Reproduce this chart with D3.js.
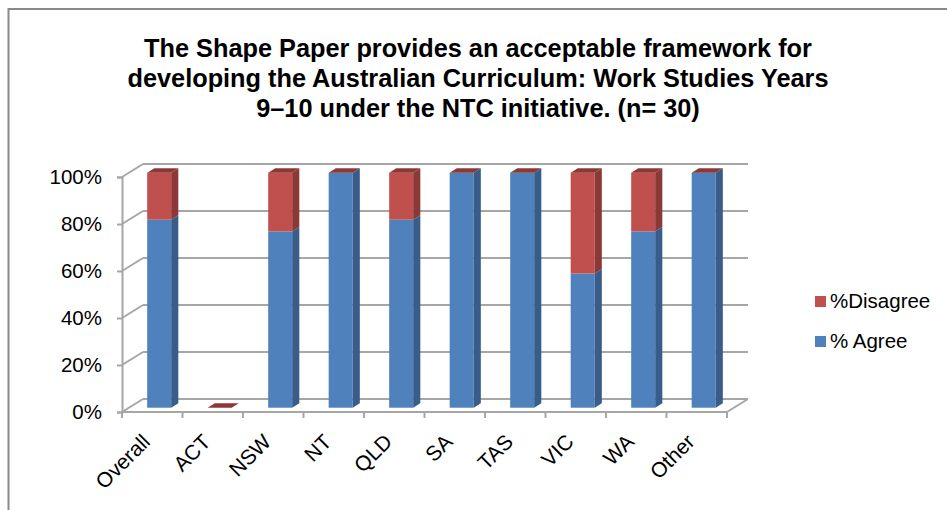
<!DOCTYPE html>
<html><head><meta charset="utf-8">
<script src="https://cdn.jsdelivr.net/npm/d3@7"></script>
<style>
html,body{margin:0;padding:0;background:#fff;}
svg{display:block;font-family:"Liberation Sans",Arial,sans-serif;}
</style></head>
<body>
<svg id="chart" width="947" height="510"></svg>
<script>
const titleLines = ["The Shape Paper provides an acceptable framework for",
  "developing the Australian Curriculum: Work Studies Years",
  "9\u201310 under the NTC initiative. (n= 30)"];
const categories = ["Overall","ACT","NSW","NT","QLD","SA","TAS","VIC","WA","Other"];
const agree    = [0.80, 0, 0.75, 1.00, 0.80, 1.00, 1.00, 0.571, 0.75, 1.00];
const disagree = [0.20, 0, 0.25, 0.00, 0.20, 0.00, 0.00, 0.429, 0.25, 0.00];
const seriesNames = ["%Disagree","% Agree"];
const yTicks = [0,0.2,0.4,0.6,0.8,1.0];

const svg = d3.select("#chart");
const W = 947, H = 510;

// chart border
svg.append("rect").attr("x",8.5).attr("y",9).attr("width",W+20).attr("height",H+20)
  .attr("fill","none").attr("stroke","#8a8a8a").attr("stroke-width",2);

// title
svg.append("g").selectAll("text").data(titleLines).join("text")
  .attr("x",478).attr("y",(d,i)=>57+i*30)
  .attr("text-anchor","middle").attr("font-weight","bold").attr("font-size",25.3)
  .attr("fill","#000").text(d=>d);

const DX = 21, DY = -13;
const x = d3.scaleBand().domain(categories).range([122,727]);
const y = d3.scaleLinear().domain([0,1]).range([412,177]);
const gridC = "#a6a6a6";

// back wall gridlines
const g = svg.append("g");
g.selectAll("line.back").data(yTicks).join("line")
  .attr("x1",122+DX).attr("x2",727+DX)
  .attr("y1",d=>y(d)+DY).attr("y2",d=>y(d)+DY)
  .attr("stroke",gridC).attr("stroke-width",2);
// left wall diagonals
g.selectAll("line.side").data(yTicks).join("line")
  .attr("x1",122).attr("x2",122+DX)
  .attr("y1",d=>y(d)).attr("y2",d=>y(d)+DY)
  .attr("stroke",gridC).attr("stroke-width",2);
// floor right edge
g.append("line").attr("x1",727).attr("y1",y(0)).attr("x2",727+DX).attr("y2",y(0)+DY)
  .attr("stroke",gridC).attr("stroke-width",2);

// bars
const f0 = 0.33, f1 = 0.67;
const bw = 24;
const colors = {
  agree:{front:"#4f81bd", side:"#385d8a", top:"#6f9ad0"},
  dis:{front:"#c0504d", side:"#8c3836", top:"#a8403d"}
};
const bars = svg.append("g");
categories.forEach((c,i)=>{
  const cx = x(c) + x.bandwidth()/2;
  const xl = cx - bw/2 + f0*DX, xr = xl + bw;
  const ox = (f1-f0)*DX, oy = (f1-f0)*DY;
  const segs = [
    {v0:0, v1:agree[i], col:colors.agree},
    {v0:agree[i], v1:agree[i]+disagree[i], col:colors.dis}
  ];
  segs.forEach(s=>{
    const yb = y(s.v0)+f0*DY, yt = y(s.v1)+f0*DY;
    if (yb-yt > 0.01) {
      bars.append("rect").attr("x",xl).attr("y",yt).attr("width",bw).attr("height",yb-yt)
        .attr("fill",s.col.front);
      bars.append("path").attr("d",`M${xr},${yb}L${xr+ox},${yb+oy}L${xr+ox},${yt+oy}L${xr},${yt}Z`)
        .attr("fill",s.col.side);
    }
  });
  // top face (red, top of stack)
  const ytop = y(agree[i]+disagree[i])+f0*DY;
  bars.append("path").attr("d",`M${xl},${ytop}L${xr},${ytop}L${xr+ox},${ytop+oy}L${xl+ox},${ytop+oy}Z`)
    .attr("fill",colors.dis.side);
});

// front axes
const ya = svg.append("g").attr("transform","translate(122,0)")
  .call(d3.axisLeft(y).tickValues(yTicks).tickFormat(d3.format(".0%")).tickSize(5).tickPadding(15));
ya.select(".domain").attr("stroke",gridC).attr("stroke-width",2);
ya.selectAll(".tick line").attr("stroke",gridC).attr("stroke-width",2);
ya.selectAll(".tick text").attr("font-size",20.5).attr("fill","#000")
  .attr("font-family","'Liberation Sans',Arial,sans-serif");

// floor front line
svg.append("line").attr("x1",122).attr("x2",727).attr("y1",y(0)).attr("y2",y(0))
  .attr("stroke",gridC).attr("stroke-width",2);
// category boundary ticks
svg.append("g").selectAll("line").data(d3.range(categories.length+1)).join("line")
  .attr("x1",d=>122+d*x.step()).attr("x2",d=>122+d*x.step())
  .attr("y1",y(0)).attr("y2",y(0)+6).attr("stroke",gridC).attr("stroke-width",2);

// category labels
const xa = svg.append("g").attr("transform",`translate(0,${y(0)})`)
  .call(d3.axisBottom(x).tickSize(0));
xa.select(".domain").remove();
xa.selectAll(".tick text")
  .attr("font-size",21).attr("fill","#000")
  .attr("font-family","'Liberation Sans',Arial,sans-serif")
  .attr("text-anchor","end").attr("dy",0)
  .attr("transform","translate(-3,29) rotate(-45)");

// legend
const leg = svg.append("g");
const legCols = [colors.dis.front, colors.agree.front];
seriesNames.forEach((n,i)=>{
  leg.append("rect").attr("x",815).attr("y",296+i*40).attr("width",11).attr("height",11).attr("fill",legCols[i]);
  leg.append("text").attr("x",830).attr("y",308+i*40).attr("font-size",20.5).attr("fill","#000").text(n);
});
</script>
</body></html>
